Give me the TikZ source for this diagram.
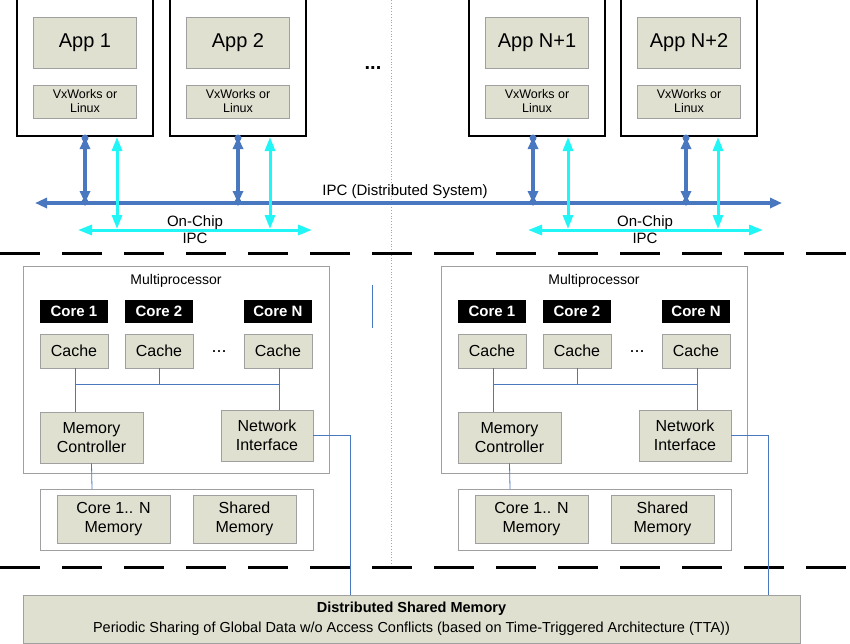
\documentclass[tikz,border=0pt]{standalone}
\usepackage{fontspec}
\setmainfont{Liberation Sans}
\usetikzlibrary{arrows.meta}
\definecolor{boxf}{HTML}{DFE0D0}
\definecolor{boxd}{HTML}{A0A0A0}
\definecolor{bl}{HTML}{4A78C0}
\definecolor{cy}{HTML}{22F5F5}
\begin{document}
\begin{tikzpicture}[x=1pt,y=-1pt,
  gbox/.style={draw=boxd,fill=boxf,line width=0.8pt,inner sep=0pt,align=center},
  obox/.style={draw=black,line width=1.2pt,fill=white},
  wbox/.style={draw=boxd,line width=0.8pt,fill=white},
  core/.style={fill=black,text=white,font=\fontsize{15}{15}\selectfont\bfseries,inner sep=0pt},
  bline/.style={draw=bl,line width=0.8pt},
  barrow/.style={draw=bl,line width=3.5pt,{Triangle[width=10pt,length=12pt]}-{Triangle[width=10pt,length=12pt]}},
  carrow/.style={draw=cy,line width=3pt,{Triangle[width=10pt,length=14pt]}-{Triangle[width=10pt,length=14pt]}},
  dashline/.style={draw=black,line width=3pt,dash pattern=on 40pt off 22pt}]
\useasboundingbox (0,0) rectangle (850,643);
% dotted divider
\draw[gray!70,dotted,line width=0.8pt] (391,0) -- (391,567);
% dashed separators
\draw[dashline] (0,253) -- (850,253);
\draw[dashline] (0,567) -- (850,567);
% application boxes
\foreach \nm/\x/\t in {a/17/App 1,b/170/App 2,c/469/App N+1,d/621/App N+2}{
  \draw[obox] (\x,-2) rectangle ++(136,138);
  \node[gbox,minimum width=103pt,minimum height=51pt,font=\fontsize{20}{20}\selectfont] (\nm app) at (\x+68,42.5) {\t};
  \node[gbox,minimum width=103pt,minimum height=33pt,font=\fontsize{12.5}{14}\selectfont] (\nm os) at (\x+68,101.5) {VxWorks or\\Linux};
  \coordinate (\nm bt) at (\x+68,136);
}
% IPC bus
\coordinate (busL) at (35,203); \coordinate (busR) at (782,203);
\draw[barrow] (busL) -- (busR);
\node[font=\fontsize{15}{15}\selectfont] (ipcl) at (405,192) {IPC (Distributed System)};
% vertical arrows
\foreach \bx/\cx in {85/117,238/270,533/568,686/718}{
  \draw[barrow] (\bx,137) -- (\bx,203);
  \fill[bl] (\bx,138) circle (3.5pt) (\bx,202) circle (3.5pt);
  \draw[carrow] (\cx,137) -- (\cx,229);
}
% on-chip arrows
\draw[carrow] (78,230) -- (312,230);
\node[font=\fontsize{15}{15}\selectfont,align=center] (oc1) at (195,230) {On-Chip\\[2pt]IPC};
\draw[carrow] (528,230) -- (763,230);
\node[font=\fontsize{15}{15}\selectfont,align=center] (oc2) at (645,230) {On-Chip\\[2pt]IPC};
% dots
\node[font=\fontsize{20}{20}\selectfont\bfseries] (dots) at (373,68) {...};
% small blue line
\draw[bline] (372,285) -- (372,328);
% multiprocessor groups
\foreach \o/\p in {0/L,418/R}{
  \begin{scope}[xshift=\o pt]
  \draw[wbox] (23,266) rectangle (329,473);
  \node[font=\fontsize{14}{14}\selectfont] (mp\p) at (176,281) {Multiprocessor};
  \node[core,minimum width=68pt,minimum height=23pt] (c1\p) at (74,311.5) {Core 1};
  \node[core,minimum width=68pt,minimum height=23pt] (c2\p) at (159,311.5) {Core 2};
  \node[core,minimum width=68pt,minimum height=23pt] (cn\p) at (278,311.5) {Core N};
  \node[gbox,minimum width=68pt,minimum height=34pt,font=\fontsize{16}{16}\selectfont] (k1\p) at (74,351) {Cache};
  \node[gbox,minimum width=68pt,minimum height=34pt,font=\fontsize{16}{16}\selectfont] (k2\p) at (159,351) {Cache};
  \node[gbox,minimum width=68pt,minimum height=34pt,font=\fontsize{16}{16}\selectfont] (kn\p) at (278,351) {Cache};
  \node[font=\fontsize{18}{18}\selectfont] (cd\p) at (219,352) {...};
  \node[gbox,minimum width=103pt,minimum height=51pt,font=\fontsize{16}{19}\selectfont] (mc\p) at (91.5,437.5) {Memory\\Controller};
  \node[gbox,minimum width=92pt,minimum height=51pt,font=\fontsize{16}{19}\selectfont] (ni\p) at (267,435.5) {Network\\Interface};
  \draw[wbox] (40,489) rectangle (313,550);
  \node[gbox,minimum width=113pt,minimum height=48pt,font=\fontsize{16}{19}\selectfont] (m1\p) at (113.5,519) {Core 1.. N\\Memory};
  \node[gbox,minimum width=103pt,minimum height=48pt,font=\fontsize{16}{19}\selectfont] (sm\p) at (244.5,519) {Shared\\Memory};
  \coordinate (bj1\p) at (75,384); \coordinate (bjn\p) at (279,384);
  \draw[bline] (k1\p.south -| bj1\p) -- (mc\p.north -| bj1\p);
  \draw[bline] (kn\p.south -| bjn\p) -- (ni\p.north -| bjn\p);
  \draw[bline] (bj1\p) -- (bjn\p);
  \draw[bline] (k2\p.south) -- (k2\p.south |- bj1\p);
  \draw[bline] (mc\p.south) -- (92,489);
  \end{scope}
}
% DSM box
\node[gbox,minimum width=777pt,minimum height=48pt,font=\fontsize{14.5}{20}\selectfont] (dsm) at (411.5,619) {\textbf{Distributed Shared Memory}\\Periodic Sharing of Global Data w/o Access Conflicts (based on Time-Triggered Architecture (TTA))};
\draw[bline] (niL.east) -| (350,595);
\draw[bline] (niR.east) -| (768,595);
\end{tikzpicture}
\end{document}
